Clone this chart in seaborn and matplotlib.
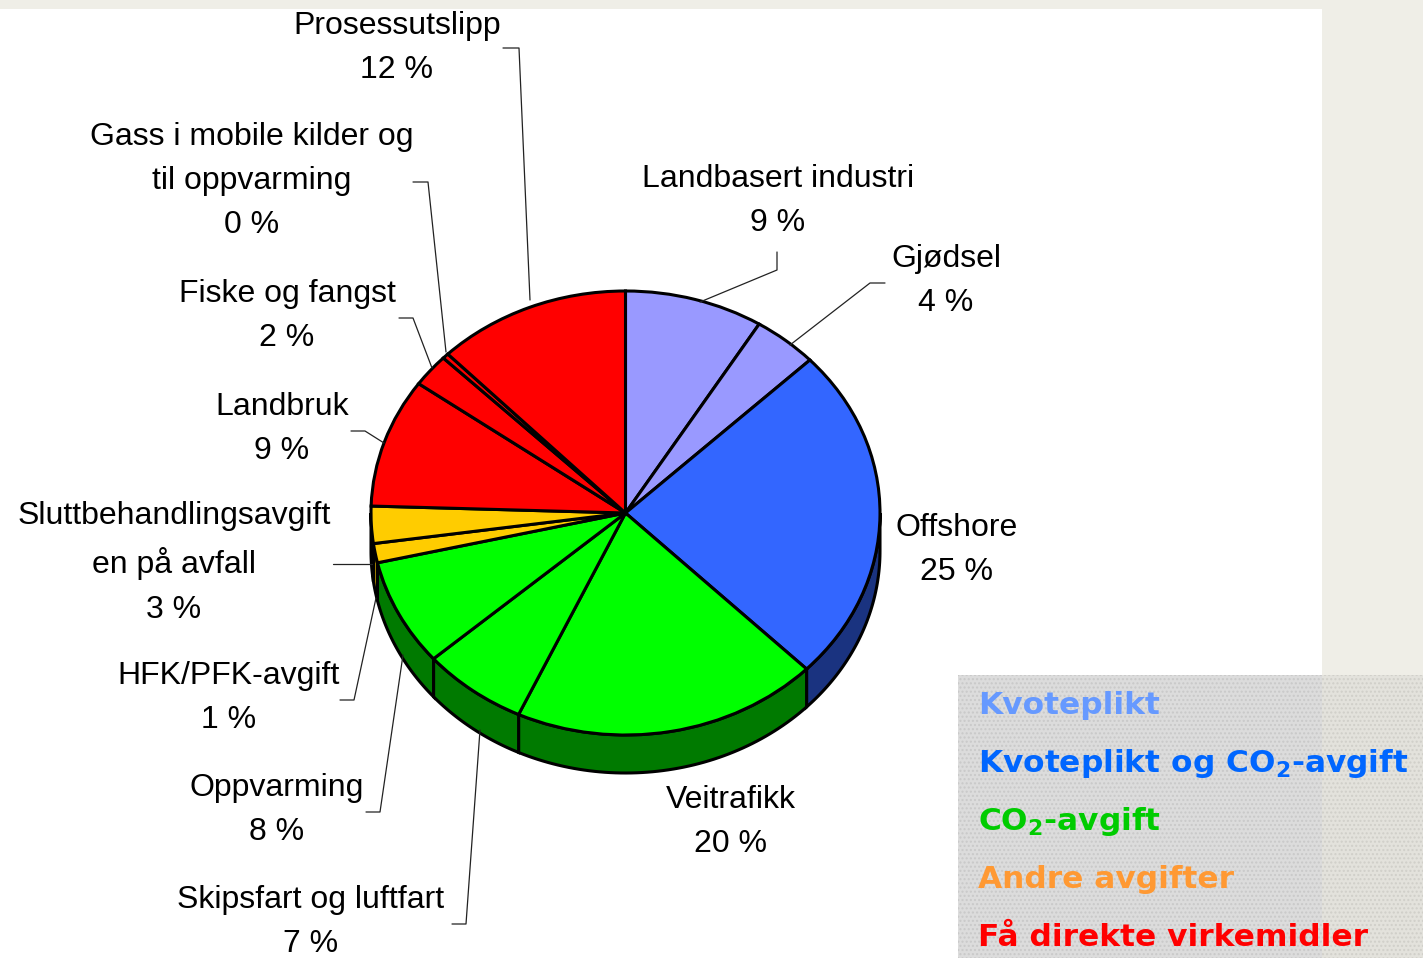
"""
Kakediagram: utslipp fordelt på kilder og virkemidler (3D-aktig pai)
"""
import numpy as np
import matplotlib
matplotlib.use("Agg")
import matplotlib.pyplot as plt
from matplotlib.patches import Rectangle
import seaborn as sns

W, H = 1423, 958

# data, med klokka fra toppen
kilder = [
    "Landbasert industri", "Gjødsel", "Offshore", "Veitrafikk",
    "Skipsfart og luftfart", "Oppvarming", "HFK/PFK-avgift",
    "Sluttbehandlingsavgift\nen på avfall", "Landbruk", "Fiske og fangst",
    "Gass i mobile kilder og\ntil oppvarming", "Prosessutslipp",
]
andel = [8.8, 4.1, 24.5, 19.5, 6.7, 7.8, 1.4, 2.7, 9.4, 2.4, 0.4, 12.3]
gruppe = ["kvote", "kvote", "kvote_co2", "co2", "co2", "co2",
          "andre", "andre", "faa", "faa", "faa", "faa"]

topp_farge = {"kvote": "#9999ff", "kvote_co2": "#3366ff", "co2": "#00ff00",
              "andre": "#ffcc00", "faa": "#ff0000"}
side_farge = {"kvote": "#5c5c99", "kvote_co2": "#1a3380", "co2": "#007a00",
              "andre": "#a08000", "faa": "#990000"}

legend_tekst = ["Kvoteplikt", r"Kvoteplikt og CO$_\mathbf{2}$-avgift",
                r"CO$_\mathbf{2}$-avgift", "Andre avgifter",
                "Få direkte virkemidler"]
legend_farge = ["#6699ff", "#0066ff", "#00cc00", "#ff9933", "#ff0000"]

# plassering av etiketter (piksler) og knekkpunkt for ledelinjer
etikett_pos = [(778, 201), (946, 281), (957, 550), (731, 822),
               (311, 922), (277, 810), (229, 698), (174, 563),
               (282, 429), (287, 316), (252, 181), (397, 48)]
ledelinjer = {
    0: [(777, 252), (777, 270), (700, 302)],
    1: [(885, 283), (870, 283), (790, 345)],
    4: [(452, 924), (466, 924), (480, 730)],
    5: [(366, 812), (380, 812), (403, 655)],
    6: [(340, 700), (354, 700), (376, 598)],
    7: [(333, 564), (372, 564)],
    8: [(351, 431), (365, 431), (384, 443)],
    9: [(399, 318), (413, 318), (432, 368)],
    10: [(413, 182), (428, 182), (446, 352)],
    11: [(503, 48), (519, 48), (530, 300)],
}

sns.set_theme(style="white")
plt.rcParams["font.family"] = ["Liberation Sans", "DejaVu Sans"]

fig = plt.figure(figsize=(W / 100, H / 100), dpi=100)
fig.patch.set_facecolor("white")


def px_axes(left, top, w, h, z):
    ax = fig.add_axes([left / W, 1 - (top + h) / H, w / W, h / H], zorder=z)
    return ax


# bakgrunn
bg = px_axes(0, 0, W, H, 0)
bg.set_xlim(0, W)
bg.set_ylim(H, 0)
bg.axis("off")
bg.add_patch(Rectangle((0, 0), W, 9, color="#efeee7", lw=0))
bg.add_patch(Rectangle((1322, 0), W - 1322, H, color="#efeee7", lw=0))
bg.add_patch(Rectangle((958, 675), 1322 - 958, H - 675, facecolor="#dcdcdc",
                       edgecolor="#c9c9c9", hatch="....", lw=0))
bg.add_patch(Rectangle((1322, 675), W - 1322, H - 675, facecolor="#e3e2dc",
                       edgecolor="#d0cfc9", hatch="....", lw=0))

# paien
cx, cy, rx, ry = 625.5, 513, 254.5, 222
lim = 1.3
pie_ax = px_axes(cx - lim * rx, cy - lim * ry, 2 * lim * rx, 2 * lim * ry, 1)
tykk = 38 / ry

farger = [topp_farge[g] for g in gruppe]
wedges, _ = pie_ax.pie(andel, colors=farger, startangle=90, counterclock=False,
                       wedgeprops=dict(edgecolor="black", linewidth=2.2))
for w_ in wedges:
    w_.set_zorder(3)

# sidekant for fremre halvdel
grenser = 90 - 360 * np.concatenate([[0], np.cumsum(andel)]) / sum(andel)
for i in range(len(andel)):
    a0, a1 = grenser[i + 1], grenser[i]  # a0 < a1
    lo, hi = max(a0, -180), min(a1, 0)
    if lo >= hi:
        continue
    t = np.radians(np.linspace(lo, hi, 60))
    xs = np.concatenate([np.cos(t), np.cos(t[::-1])])
    ys = np.concatenate([np.sin(t), np.sin(t[::-1]) - tykk])
    pie_ax.fill(xs, ys, facecolor=side_farge[gruppe[i]], edgecolor="black",
                linewidth=2.2, zorder=1)

pie_ax.set_aspect("auto")
pie_ax.set_xlim(-lim, lim)
pie_ax.set_ylim(-lim, lim)
pie_ax.axis("off")

# etiketter og ledelinjer
ov = px_axes(0, 0, W, H, 5)
ov.set_xlim(0, W)
ov.set_ylim(H, 0)
ov.axis("off")
ov.patch.set_alpha(0)

for i, (navn, v) in enumerate(zip(kilder, andel)):
    x, y = etikett_pos[i]
    ov.text(x, y, f"{navn}\n{int(v + 0.5)} %", ha="center", va="center",
            multialignment="center", fontsize=23, linespacing=1.63,
            color="black")
for pts in ledelinjer.values():
    xs, ys = zip(*pts)
    ov.plot(xs, ys, color="#222222", lw=0.9)

for k, (txt, col) in enumerate(zip(legend_tekst, legend_farge)):
    ov.text(978, 705 + 58 * k, txt, ha="left", va="center", fontsize=22.5,
            fontweight="bold", color=col, family=["DejaVu Sans"])

fig.savefig("out.png", dpi=100, facecolor=fig.get_facecolor())
